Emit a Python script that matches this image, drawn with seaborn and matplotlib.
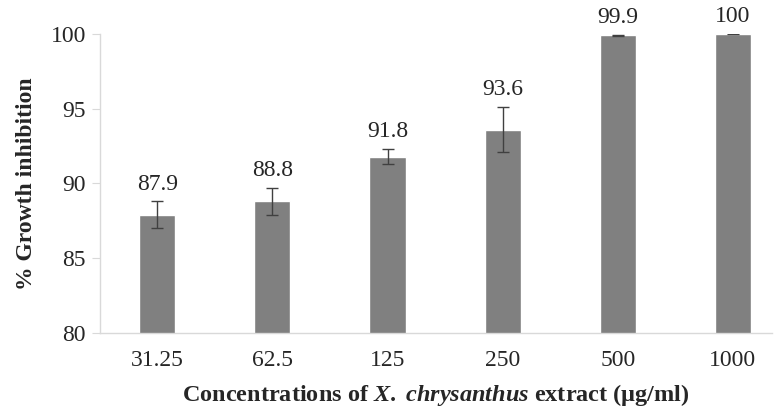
import pandas as pd
import matplotlib
matplotlib.use('Agg')
import matplotlib.pyplot as plt
import seaborn as sns

# Data
concentrations = ['31.25', '62.5', '125', '250', '500', '1000']
inhibition = [87.9, 88.8, 91.8, 93.6, 99.9, 100.0]
errors = [0.9, 0.9, 0.5, 1.5, 0.03, 0.03]
value_labels = ['87.9', '88.8', '91.8', '93.6', '99.9', '100']

df = pd.DataFrame({'Concentration': concentrations, 'Inhibition': inhibition})

sns.set_style('white')
plt.rcParams['font.family'] = ['Liberation Serif', 'DejaVu Serif']
plt.rcParams['mathtext.fontset'] = 'custom'
plt.rcParams['mathtext.rm'] = 'Liberation Serif:bold'
plt.rcParams['mathtext.it'] = 'Liberation Serif:italic:bold'
plt.rcParams['mathtext.bf'] = 'Liberation Serif:bold'

fig = plt.figure(figsize=(7.79, 4.09), dpi=100)
ax = fig.add_axes([0.128, 0.186, 0.863, 0.731])

sns.barplot(data=df, x='Concentration', y='Inhibition', order=concentrations,
            color='#808080', saturation=1, width=0.313, errorbar=None, ax=ax)

# error bars
ax.errorbar(range(len(concentrations)), inhibition, yerr=errors, fmt='none',
            ecolor='#404040', elinewidth=1.0, capsize=4, capthick=1.0)

# value labels above each error bar
for i, (v, e, lab) in enumerate(zip(inhibition, errors, value_labels)):
    ax.text(i, v + e + 0.45, lab, ha='center', va='bottom', fontsize=17)

ax.set_ylim(80, 100)
ax.set_xlim(-0.5, 5.34)
ax.set_yticks([80, 85, 90, 95, 100])

for s in ['top', 'right']:
    ax.spines[s].set_visible(False)
for s in ['left', 'bottom']:
    ax.spines[s].set_color('#d9d9d9')
    ax.spines[s].set_linewidth(1.0)

ax.tick_params(axis='y', left=True, length=6, color='#d9d9d9', labelsize=17, pad=4)
ax.tick_params(axis='x', bottom=False, labelsize=17, pad=9)

ax.set_ylabel('% Growth inhibition', fontsize=17, fontweight='bold', labelpad=10)
ax.set_xlabel(r'Concentrations of $X.$ $chrysanthus$ extract (µg/ml)',
              fontsize=17.5, fontweight='bold', labelpad=8)

fig.savefig('out.png', dpi=100)
